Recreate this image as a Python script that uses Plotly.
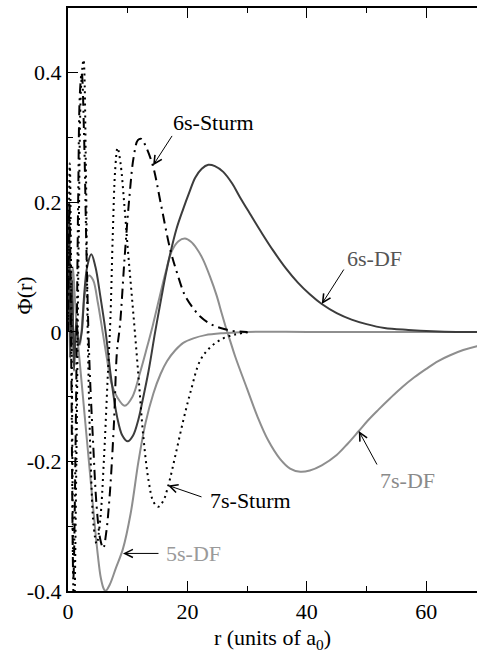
import plotly.graph_objects as go

# ---------------- data ----------------
r_6s_df = [0, 0.2, 0.4, 0.7, 1.0, 1.4, 1.8, 2.3, 2.7, 3.2, 3.9, 4.6, 5.4, 6.3, 7.2, 8.2, 9.1, 10.0,
           10.9, 11.8, 12.4, 13.5, 14.6, 15.7, 16.4, 17.1, 18.2, 19.3, 20.3, 21.3, 22.4, 23.5, 24.6,
           26.0, 27.5, 28.8, 30.5, 32.5, 34.4, 36.5, 38.5, 40.5, 42.5, 45.0, 47.5, 50.0, 53.0, 57.0,
           61.0, 65.0, 70.0]
v_6s_df = [0, 0.20, -0.04, 0.08, -0.06, 0.02, -0.02, 0.0, 0.056, 0.10, 0.12, 0.10, 0.056, 0.0,
           -0.07, -0.13, -0.16, -0.169, -0.16, -0.135, -0.11, -0.06, 0.0, 0.056, 0.09, 0.12, 0.16,
           0.19, 0.215, 0.238, 0.252, 0.258, 0.256, 0.247, 0.229, 0.208, 0.182, 0.152, 0.125, 0.098,
           0.076, 0.058, 0.043, 0.029, 0.019, 0.012, 0.006, 0.003, 0.001, 0.0, 0.0]

r_7s_df = [0, 0.2, 0.4, 0.7, 1.0, 1.4, 2.0, 2.5, 3.0, 3.5, 4.2, 5.0, 5.8, 6.5, 7.3, 8.2, 9.5, 10.8,
           12.0, 13.2, 14.2, 15.4, 16.3, 17.4, 18.5, 19.6, 20.6, 21.6, 22.6, 23.8, 24.9, 25.7, 26.4,
           27.2, 28.0, 30.0, 31.7, 33.5, 35.5, 37.2, 38.9, 40.5, 42.5, 45.0, 46.8, 48.7, 50.3, 52.0,
           54.0, 56.0, 58.0, 60.0, 62.0, 64.0, 66.2, 68.5, 70.0]
v_7s_df = [0, 0.15, -0.03, 0.06, -0.04, 0.01, -0.02, 0.03, 0.07, 0.087, 0.08, 0.045, 0.0, -0.04,
           -0.08, -0.10, -0.114, -0.10, -0.065, -0.025, 0.01, 0.056, 0.09, 0.125, 0.14, 0.144, 0.139,
           0.128, 0.112, 0.085, 0.056, 0.03, 0.008, -0.015, -0.038, -0.088, -0.13, -0.167, -0.196,
           -0.211, -0.216, -0.214, -0.206, -0.19, -0.173, -0.153, -0.136, -0.12, -0.102, -0.085,
           -0.07, -0.057, -0.045, -0.036, -0.028, -0.022, -0.019]

r_5s_df = [0, 0.15, 0.3, 0.5, 0.8, 1.1, 1.5, 2.0, 2.5, 3.0, 3.5, 4.0, 4.5, 5.0, 5.5, 6.0, 6.3, 7.0,
           8.0, 9.2, 10.5, 11.8, 13.0, 14.3, 15.5, 16.6, 18.0, 19.3, 21.0, 23.0, 26.0, 30.0, 40.0,
           50.0, 60.0, 70.0]
v_5s_df = [0, 0.12, -0.04, 0.07, 0.10, 0.06, 0.0, -0.05, -0.10, -0.15, -0.20, -0.25, -0.30, -0.345,
           -0.38, -0.397, -0.40, -0.39, -0.365, -0.335, -0.28, -0.20, -0.14, -0.095, -0.065, -0.045,
           -0.028, -0.017, -0.01, -0.005, -0.002, 0.0, 0.0, 0.0, 0.0, 0.0]

r_6s_sturm = [0, 0.25, 0.55, 0.9, 1.3, 1.7, 2.0, 2.3, 2.7, 3.1, 3.6, 4.2, 4.8, 5.4, 5.9, 6.4, 7.0,
              7.7, 8.2, 8.7, 9.5, 10.3, 11.0, 11.7, 12.3, 12.9, 14.2, 15.5, 17.1, 18.3, 19.6, 21.0,
              22.1, 23.5, 24.9, 26.3, 28.0, 30.0]
v_6s_sturm = [0, 0.20, -0.05, -0.38, -0.15, 0.20, 0.37, 0.40, 0.30, 0.12, -0.05, -0.17, -0.27,
              -0.32, -0.334, -0.31, -0.25, -0.14, -0.03, 0.01, 0.117, 0.21, 0.27, 0.296, 0.298,
              0.289, 0.257, 0.20, 0.128, 0.09, 0.056, 0.036, 0.024, 0.014, 0.008, 0.004, 0.001, 0.0]

r_7s_sturm = [0, 0.3, 0.6, 1.0, 1.4, 1.8, 2.2, 2.6, 3.0, 3.3, 3.8, 4.3, 4.8, 5.4, 6.0, 6.6, 7.1,
              7.5, 7.9, 8.3, 8.8, 9.4, 10.0, 10.6, 11.2, 11.9, 12.6, 13.5, 14.3, 15.1, 15.9, 16.8,
              18.0, 19.3, 20.6, 22.1, 23.8, 26.0, 28.0, 30.5]
v_7s_sturm = [0, 0.26, 0.0, -0.45, -0.2, 0.15, 0.38, 0.42, 0.25, 0.0, -0.2, -0.3, -0.327, -0.29,
              -0.2, -0.08, 0.02, 0.15, 0.25, 0.284, 0.26, 0.2, 0.13, 0.065, 0.0, -0.08, -0.16,
              -0.23, -0.262, -0.27, -0.262, -0.237, -0.19, -0.137, -0.09, -0.045, -0.024, -0.01,
              -0.004, 0.0]

y_tick_vals = [-0.4, -0.2, 0, 0.2, 0.4]
y_tick_text = ["-0.4", "-0.2", "0", "0.2", "0.4"]
x_tick_vals = [0, 20, 40, 60]
x_tick_text = ["0", "20", "40", "60"]

# ---------------- figure ----------------
DARK = "#3c3c3c"
LIGHT = "#8e8e8e"
FONT = "Liberation Serif"
FS = 22

fig = go.Figure()
line_shape = dict(shape="spline", smoothing=1.0)

fig.add_trace(go.Scatter(x=r_5s_df, y=v_5s_df, mode="lines",
                         line=dict(color=LIGHT, width=2, **line_shape)))
fig.add_trace(go.Scatter(x=r_7s_df, y=v_7s_df, mode="lines",
                         line=dict(color=LIGHT, width=2, **line_shape)))
fig.add_trace(go.Scatter(x=r_6s_df, y=v_6s_df, mode="lines",
                         line=dict(color=DARK, width=2, **line_shape)))
fig.add_trace(go.Scatter(x=r_6s_sturm, y=v_6s_sturm, mode="lines",
                         line=dict(color="black", width=2, dash="10px,5px,2px,5px", **line_shape)))
fig.add_trace(go.Scatter(x=r_7s_sturm, y=v_7s_sturm, mode="lines",
                         line=dict(color="black", width=2, dash="2px,4px", **line_shape)))

arrow_common = dict(showarrow=True, arrowhead=5, arrowsize=1.6, arrowwidth=1,
                    arrowcolor="black", standoff=0, text="", xref="x", yref="y")
fig.add_annotation(x=14.24, y=0.257, ax=20, ay=-31, **arrow_common)
fig.add_annotation(x=16.75, y=-0.237, ax=35, ay=12, **arrow_common)
fig.add_annotation(x=9.21, y=-0.342, ax=37, ay=0, **arrow_common)
fig.add_annotation(x=42.5, y=0.043, ax=23, ay=-36, **arrow_common)
fig.add_annotation(x=48.7, y=-0.153, ax=19, ay=35, **arrow_common)

label_common = dict(showarrow=False, xref="x", yref="y", xanchor="center", yanchor="middle")
fig.add_annotation(x=24.3, y=0.324, text="6s-Sturm", font=dict(family=FONT, size=FS, color="black"), **label_common)
fig.add_annotation(x=30.5, y=-0.26, text="7s-Sturm", font=dict(family=FONT, size=FS, color="black"), **label_common)
fig.add_annotation(x=21.1, y=-0.342, text="5s-DF", font=dict(family=FONT, size=FS, color="#9a9a9a"), **label_common)
fig.add_annotation(x=51.4, y=0.114, text="6s-DF", font=dict(family=FONT, size=FS, color="#555555"), **label_common)
fig.add_annotation(x=56.9, y=-0.23, text="7s-DF", font=dict(family=FONT, size=FS, color="#8a8a8a"), **label_common)

# y-axis title placed as rotated text (sits closer to the tick labels than a standoff allows)
fig.add_annotation(x=-0.1076, y=0.507, xref="paper", yref="paper", text="Φ(r)", textangle=-90,
                   showarrow=False, xanchor="center", yanchor="middle",
                   font=dict(family=FONT, size=FS, color="black"))

fig.update_layout(
    width=477, height=653,
    margin=dict(l=68, r=0, t=8, b=53),
    paper_bgcolor="white", plot_bgcolor="white",
    showlegend=False,
    font=dict(family=FONT, size=FS, color="black"),
    xaxis=dict(range=[0, 68.5], showgrid=False, zeroline=False,
               showline=True, linecolor="black", linewidth=2, mirror="ticks",
               ticks="inside", ticklen=10, tickwidth=1, tickcolor="black",
               tickvals=x_tick_vals, ticktext=x_tick_text,
               minor=dict(ticks="inside", ticklen=5, tickwidth=1, tickcolor="black",
                          tickvals=[10, 30, 50]),
               title=dict(text="r (units of a<sub>0</sub>)", standoff=13,
                          font=dict(family=FONT, size=FS))),
    yaxis=dict(range=[-0.4, 0.5], showgrid=False, zeroline=False,
               showline=True, linecolor="black", linewidth=2, mirror=False,
               ticks="inside", ticklen=10, tickwidth=1, tickcolor="black",
               tickvals=y_tick_vals, ticktext=y_tick_text,
               minor=dict(ticks="inside", ticklen=5, tickwidth=1, tickcolor="black",
                          tickvals=[-0.3, -0.1, 0.1, 0.3])),
    yaxis2=dict(range=[-0.4, 0.5], overlaying="y", side="right", showgrid=False,
                zeroline=False, showline=False, ticks="inside", ticklen=4, tickwidth=1,
                tickcolor="black", tickvals=y_tick_vals, showticklabels=False),
)

fig.write_html("out.html")
